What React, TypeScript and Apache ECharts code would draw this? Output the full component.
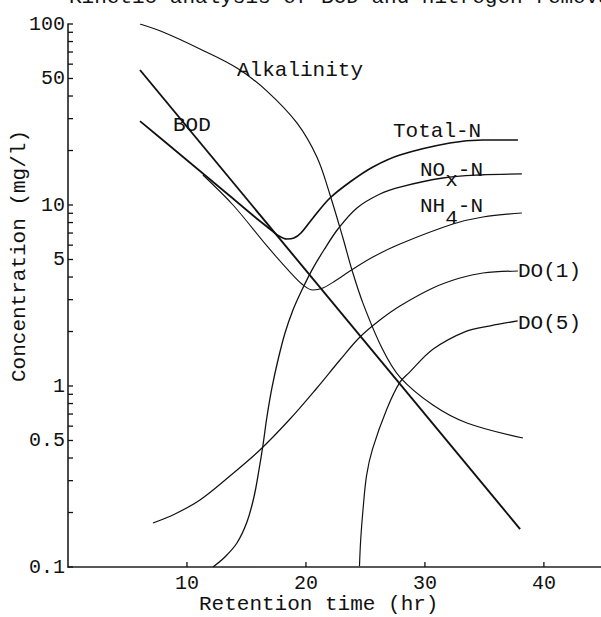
import React, { useEffect, useRef } from "react";
import * as echarts from "echarts";

// Retention time (hr) vs concentration (mg/l)
const alkalinity: [number, number][] = [
  [6.05, 100], [7.98, 90.3], [11.09, 72.8], [14.2, 57.1], [16.72, 42.6], [19.24, 28.4],
  [20.92, 18.4], [22.02, 11.4], [23.11, 6.57], [23.87, 4.37], [24.79, 2.87], [26.39, 1.62],
  [27.9, 1.12], [30.67, 0.785], [33.53, 0.625], [38.24, 0.516],
];
const bod: [number, number][] = [[6.05, 55.7], [38.0, 0.162]];
const totalN: [number, number][] = [
  [6.05, 29.1], [8.57, 21.18], [11.09, 15.41], [13.61, 11.21], [15.71, 8.585], [16.97, 7.37],
  [17.73, 6.74], [18.4, 6.49], [18.99, 6.57], [19.58, 7.0], [20.59, 8.48], [22.02, 10.93],
  [23.7, 13.4], [25.63, 16.22], [27.9, 18.89], [32.1, 22.0], [34.87, 22.86], [37.82, 22.86],
];
const noxN: [number, number][] = [
  [12.18, 0.1], [13.19, 0.1136], [14.2, 0.1357], [15.04, 0.1772], [15.63, 0.2436], [16.05, 0.3435],
  [16.39, 0.472], [16.72, 0.674], [17.14, 0.975], [17.65, 1.392], [18.24, 1.963], [18.91, 2.63],
  [19.66, 3.39], [20.5, 4.37], [21.51, 5.64], [22.69, 7.37], [24.29, 9.63], [26.22, 11.5],
  [27.9, 12.57], [31.51, 14.1], [34.62, 14.65], [38.15, 14.84],
];
const nh4N: [number, number][] = [
  [11.34, 14.65], [13.87, 10.0], [16.72, 5.94], [18.66, 4.26], [19.66, 3.66], [20.59, 3.39],
  [21.43, 3.48], [22.44, 3.8], [23.7, 4.32], [25.63, 5.16], [27.9, 6.09], [32.35, 7.85],
  [34.87, 8.59], [38.15, 9.03],
];
const do1: [number, number][] = [
  [7.14, 0.175], [8.99, 0.1963], [11.09, 0.2345], [13.61, 0.3183], [16.13, 0.443], [18.66, 0.657],
  [20.92, 0.975], [22.86, 1.392], [24.54, 1.865], [26.22, 2.315], [27.9, 2.767], [30.67, 3.48],
  [32.94, 3.95], [34.87, 4.21], [37.82, 4.32],
];
const do5: [number, number][] = [
  [24.5, 0.101], [24.6, 0.141], [24.8, 0.209], [25.1, 0.322], [25.6, 0.449], [26.8, 0.746],
  [27.9, 1.05], [28.7, 1.19], [30.7, 1.6], [33.5, 2.01], [35.5, 2.15], [37.8, 2.29],
];

const xTickValues = [10, 20, 30, 40];
const yTickValues = [
  0.1, 0.2, 0.3, 0.4, 0.5, 0.6, 0.7, 0.8, 0.9,
  1, 2, 3, 4, 5, 6, 7, 8, 9,
  10, 20, 30, 40, 50, 60, 70, 80, 90, 100,
];
const yLabelValues = [0.1, 0.5, 1, 5, 10, 50, 100];

const FONT = "'Liberation Mono', 'DejaVu Sans Mono', monospace";

export default function App() {
  const ref = useRef<HTMLDivElement>(null);
  useEffect(() => {
    if (!ref.current) return;
    const chart = echarts.init(ref.current, null, { renderer: "svg" });
    const line = (name: string, data: [number, number][], width: number) => ({
      type: "line",
      name,
      data,
      smooth: 0.35,
      symbol: "none",
      lineStyle: { color: "#111", width },
      z: 3,
    });
    const txt = (text: string, x: number, y: number, size = 21) => ({
      type: "text",
      x,
      y,
      style: {
        text,
        fill: "#111",
        font: `${size}px ${FONT}`,
        textAlign: "left",
        textVerticalAlign: "middle",
      },
    });
    const texts: any[] = [
      txt("Kinetic analysis of BOD and nitrogen removal", 69, -3),
      txt("Alkalinity", 237, 70.5),
      txt("BOD", 173, 125.5),
      txt("Total-N", 393, 131.5),
      txt("NO", 420, 170),
      txt("x", 445.2, 180),
      txt("-N", 457.8, 170),
      txt("NH", 420, 206.5),
      txt("4", 445.2, 218.5),
      txt("-N", 457.8, 206.5),
      txt("DO(1)", 518, 271),
      txt("DO(5)", 518, 323),
      txt("Retention time (hr)", 199, 604),
      {
        type: "text",
        x: 19,
        y: 256,
        rotation: Math.PI / 2,
        style: {
          text: "Concentration (mg/l)",
          fill: "#111",
          font: `21px ${FONT}`,
          textAlign: "center",
          textVerticalAlign: "middle",
        },
      },
    ];
    chart.setOption({
      animation: false,
      backgroundColor: "#fff",
      grid: { left: 68, top: 24, width: 533, height: 543, containLabel: false },
      xAxis: {
        type: "value",
        min: 0,
        max: 44.8,
        axisLine: { show: true, lineStyle: { color: "#222", width: 1.5 } },
        axisTick: { show: false },
        axisLabel: {
          customValues: xTickValues,
          fontFamily: FONT,
          fontSize: 20,
          color: "#111",
          margin: 6,
        },
        splitLine: { show: false },
      },
      yAxis: {
        type: "log",
        logBase: 10,
        min: 0.1,
        max: 100,
        axisLine: { show: true, lineStyle: { color: "#111", width: 1.5 } },
        axisTick: { show: false },
        axisLabel: {
          customValues: yLabelValues,
          fontFamily: FONT,
          fontSize: 20,
          color: "#111",
          margin: 3,
          formatter: (v: number) => (v < 1 ? v.toFixed(1) : String(Math.round(v))),
        },
        splitLine: { show: false },
      },
      series: [
        line("Alkalinity", alkalinity, 1.2),
        line("BOD", bod, 1.9),
        line("Total-N", totalN, 1.7),
        line("NOx-N", noxN, 1.3),
        line("NH4-N", nh4N, 1.1),
        line("DO(1)", do1, 1.2),
        line("DO(5)", do5, 1.2),
      ],
      graphic: texts,
    });
    // tick marks placed through the chart's own scales
    const ticks: any[] = [];
    yTickValues.forEach((v) => {
      const p = chart.convertToPixel({ xAxisIndex: 0, yAxisIndex: 0 }, [0, v]) as number[];
      ticks.push({
        type: "line",
        shape: { x1: p[0], y1: p[1], x2: p[0] + 5, y2: p[1] },
        style: { stroke: "#111", lineWidth: 1.3 },
        z: 10,
      });
    });
    xTickValues.forEach((v) => {
      const p = chart.convertToPixel({ xAxisIndex: 0, yAxisIndex: 0 }, [v, 0.1]) as number[];
      ticks.push({
        type: "line",
        shape: { x1: p[0], y1: p[1], x2: p[0], y2: p[1] - 5 },
        style: { stroke: "#111", lineWidth: 1.3 },
        z: 10,
      });
    });
    chart.setOption({ graphic: [...texts, ...ticks] });
    return () => chart.dispose();
  }, []);
  return (
    <div
      ref={ref}
      style={{ width: 601, height: 617, position: "absolute", left: 0, top: 0, background: "#fff" }}
    />
  );
}
